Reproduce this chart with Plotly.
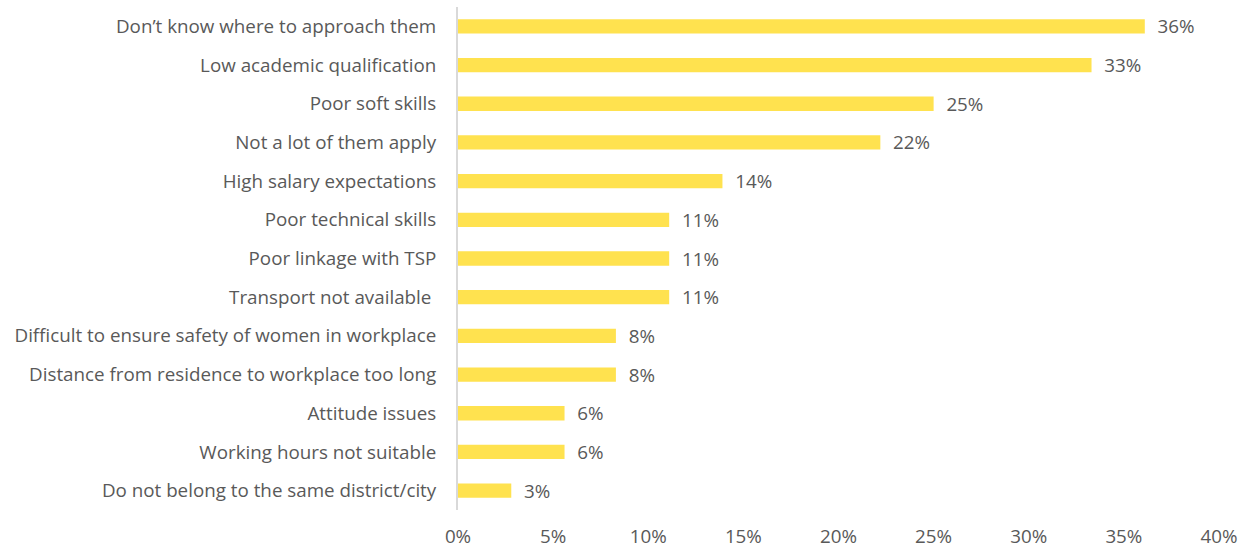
import plotly.graph_objects as go

# Reasons listed top to bottom
reasons = [
    "Don’t know where to approach them",
    "Low academic qualification",
    "Poor soft skills",
    "Not a lot of them apply",
    "High salary expectations",
    "Poor technical skills",
    "Poor linkage with TSP",
    "Transport not available ",
    "Difficult to ensure safety of women in workplace",
    "Distance from residence to workplace too long",
    "Attitude issues",
    "Working hours not suitable",
    "Do not belong to the same district/city",
]
# Share of respondents (%)
share = [36.1, 33.3, 25.0, 22.2, 13.9, 11.1, 11.1, 11.1, 8.3, 8.3, 5.6, 5.6, 2.8]

tick_vals = [0, 5, 10, 15, 20, 25, 30, 35, 40]
tick_text = ["0%", "5%", "10%", "15%", "20%", "25%", "30%", "35%", "40%"]

text_color = "#595959"
font_family = "'Open Sans', Calibri, Carlito, sans-serif"
font_size = 18.8

fig = go.Figure(
    go.Bar(
        x=share,
        y=reasons,
        orientation="h",
        marker=dict(color="#FFE24F", line=dict(width=0)),
        texttemplate="\u00a0\u00a0%{x:.0f}%",
        textposition="outside",
        constraintext="none",
        textfont=dict(color=text_color, size=font_size, family=font_family),
        cliponaxis=False,
    )
)

fig.update_layout(
    width=1248,
    height=548,
    margin=dict(l=458, r=29, t=7, b=38),
    paper_bgcolor="white",
    plot_bgcolor="white",
    bargap=0.63,
    showlegend=False,
    font=dict(family=font_family, color=text_color, size=font_size),
    xaxis=dict(
        range=[0, 40],
        tickvals=tick_vals,
        ticktext=tick_text,
        showgrid=False,
        zeroline=False,
        showline=False,
        ticks="",
        automargin=False,
        ticklabelstandoff=13,
        tickfont=dict(size=font_size, color=text_color),
    ),
    yaxis=dict(
        autorange="reversed",
        showgrid=False,
        zeroline=False,
        showline=True,
        linecolor="#D9D9D9",
        linewidth=2,
        ticks="",
        automargin=False,
        ticklabelstandoff=16,
        tickfont=dict(size=font_size, color=text_color),
    ),
)

fig.write_html("out.html")
